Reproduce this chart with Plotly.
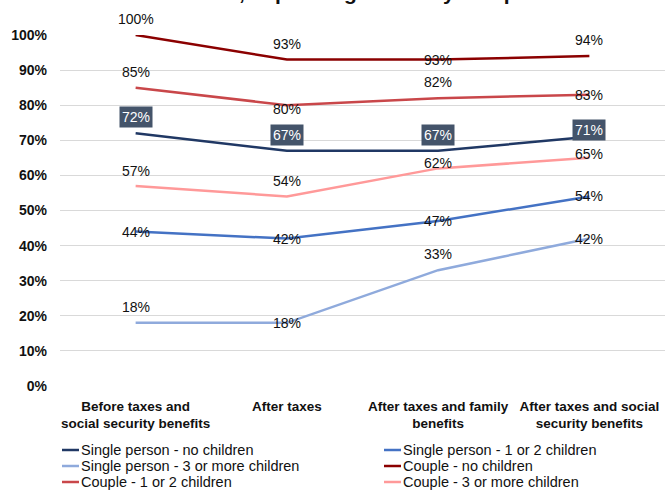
import plotly.graph_objects as go

# Stages of the income calculation (x categories)
stages = [
    "Before taxes and<br>social security benefits",
    "After taxes",
    "After taxes and family<br>benefits",
    "After taxes and social<br>security benefits",
]

# Household types and their shares (%) at each stage
series_names = [
    "Single person - no children",
    "Single person - 1 or 2 children",
    "Single person - 3 or more children",
    "Couple - no children",
    "Couple - 1 or 2 children",
    "Couple - 3 or more children",
]
single_no_children = [72, 67, 67, 71]
single_1_2_children = [44, 42, 47, 54]
single_3_plus_children = [18, 18, 33, 42]
couple_no_children = [100, 93, 93, 94]
couple_1_2_children = [85, 80, 82, 83]
couple_3_plus_children = [57, 54, 62, 65]

series_values = [
    single_no_children,
    single_1_2_children,
    single_3_plus_children,
    couple_no_children,
    couple_1_2_children,
    couple_3_plus_children,
]

# Styling per series
colors = ["#203864", "#4472C4", "#8FAADC", "#8B0000", "#C9474A", "#FF9999"]
label_shift = [
    [16, 16, 16, 7],
    [0, 0, 0, 0],
    [16, 0, 16, 0],
    [16, 16, 0, 16],
    [16, -4, 16, 0],
    [15, 15, 5, 4],
]
boxed_labels = [True, False, False, False, False, False]

FONT = "Liberation Sans, Arial, sans-serif"

# Figure geometry (pixels)
W, H = 666, 490
M_L, M_R, M_T, M_B = 60, 1, 35, 104
PLOT_W = W - M_L - M_R
PLOT_H = H - M_T - M_B


def px_to_paper(px, py):
    return (px - M_L) / PLOT_W, (H - M_B - py) / PLOT_H


fig = go.Figure()
annotations = []
shapes = []
for name, vals, col, shifts, boxed in zip(series_names, series_values, colors, label_shift, boxed_labels):
    fig.add_trace(go.Scatter(
        x=stages,
        y=[v / 100 for v in vals],
        name=name,
        mode="lines",
        line=dict(color=col, width=2.5),
        hoverinfo="skip",
        showlegend=False,
    ))
    for cat, v, dy in zip(stages, vals, shifts):
        ann = dict(
            x=cat, y=v / 100, xref="x", yref="y",
            text=f"{v}%", showarrow=False, yshift=dy,
            font=dict(family=FONT, size=14, color="white" if boxed else "#111111"),
        )
        if boxed:
            ann.update(bgcolor="#44546A", borderpad=2)
        annotations.append(ann)

# Two-column key below the chart, filled row by row
col_x = [62, 384]
row_y = [450, 466, 482]
for i, (name, col) in enumerate(zip(series_names, colors)):
    cx = col_x[i % 2]
    cy = row_y[i // 2]
    x0, y0 = px_to_paper(cx, cy)
    x1, _ = px_to_paper(cx + 17, cy)
    shapes.append(dict(
        type="line", xref="paper", yref="paper",
        x0=x0, x1=x1, y0=y0, y1=y0,
        line=dict(color=col, width=2.5),
    ))
    tx, _ = px_to_paper(cx + 17, cy)
    annotations.append(dict(
        text=name, xref="paper", yref="paper", x=tx, y=y0,
        xanchor="left", yanchor="middle", showarrow=False,
        font=dict(family=FONT, size=14.5, color="#111111"),
    ))

# Chart heading (runs off the top edge)
annotations.append(dict(
    text="Relative income, depending on family composition",
    xref="paper", yref="paper", x=0.45, y=1.0, xanchor="center", yanchor="middle",
    yshift=43, showarrow=False,
    font=dict(family=FONT, size=21, color="#111111", weight="bold"),
))

fig.update_layout(
    width=W, height=H,
    margin=dict(l=M_L, r=M_R, t=M_T, b=M_B, autoexpand=False),
    paper_bgcolor="white", plot_bgcolor="white",
    font=dict(family=FONT, color="#111111"),
    annotations=annotations,
    shapes=shapes,
    showlegend=False,
    xaxis=dict(
        range=[-0.5, 3.5],
        showgrid=False, zeroline=False, showline=False,
        ticks="",
        tickfont=dict(family=FONT, size=13.5, color="#111111", weight="bold"),
        ticklabelstandoff=10,
        fixedrange=True,
    ),
    yaxis=dict(
        range=[0, 1.0],
        tickvals=[i / 10 for i in range(11)],
        tickformat=".0%",
        showgrid=True, gridcolor="#D9D9D9", gridwidth=1,
        zeroline=False, showline=False, ticks="",
        tickfont=dict(family=FONT, size=14, color="#111111", weight="bold"),
        ticklabelstandoff=12,
        fixedrange=True,
    ),
)
fig.update_traces(cliponaxis=False)

fig.write_html("out.html")
